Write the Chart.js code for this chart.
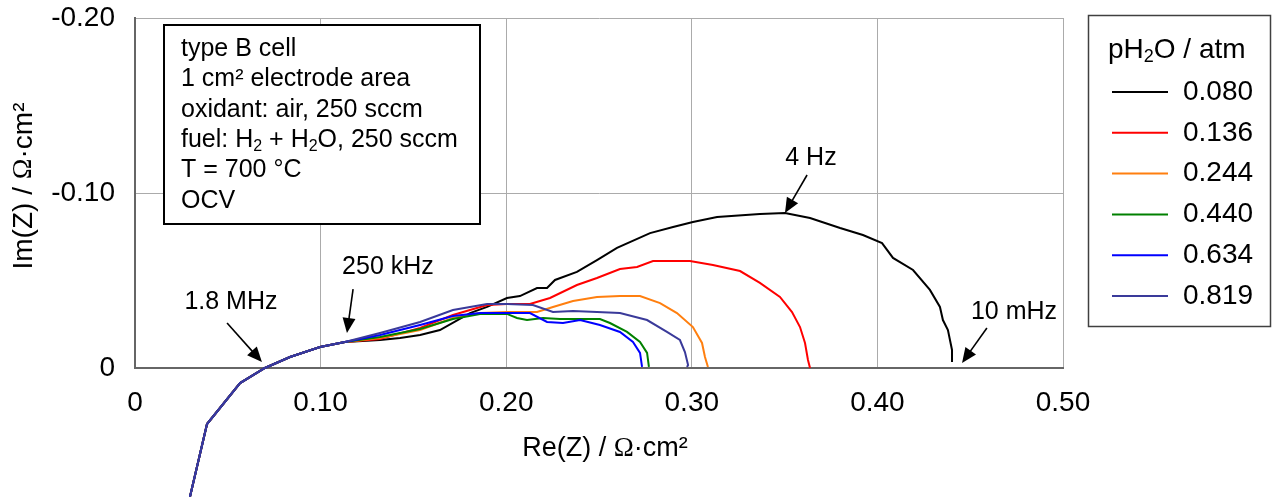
<!DOCTYPE html>
<html>
<head>
<meta charset="utf-8">
<script src="https://cdn.jsdelivr.net/npm/chart.js@4.4.0/dist/chart.umd.min.js"></script>
<style>
  html, body { margin: 0; padding: 0; background: #fff; }
  #wrap { width: 1272px; height: 497px; }
</style>
</head>
<body>
<div id="wrap"><canvas id="nyquist" width="1272" height="497"></canvas></div>
<script>
const FONT = "Arial, 'Liberation Sans', sans-serif";
const SERIF = "'Liberation Serif', 'DejaVu Serif', serif";

// pH2O levels and line colours
const labels = ["0.080", "0.136", "0.244", "0.440", "0.634", "0.819"];
const colors = ["#000000", "#ff0000", "#ff7f0f", "#008000", "#0000ff", "#3a3a9a"];

const xTicks = [0, 0.1, 0.2, 0.3, 0.4, 0.5];
const yTicks = [-0.2, -0.1, 0];

// high frequency part, same for every spectrum
const headRe = [0.028, 0.0296, 0.0388, 0.0566, 0.070, 0.0835, 0.0997, 0.1131];
const headIm = [0.081, 0.0737, 0.032, 0.0086, 0, -0.0063, -0.012, -0.0149];

const re080 = headRe.concat([0.132, 0.1428, 0.1536, 0.1643, 0.1805, 0.1897, 0.2004, 0.2074, 0.2166, 0.222, 0.2263, 0.2381, 0.2489, 0.2597, 0.2775, 0.2899, 0.3006, 0.3136, 0.3367, 0.3502, 0.3637, 0.3799, 0.3922, 0.4025, 0.4084, 0.4192, 0.4283, 0.4337, 0.4353, 0.438, 0.4402, 0.4402]);
const im080 = headIm.concat([-0.016, -0.0171, -0.0189, -0.0217, -0.0314, -0.0349, -0.04, -0.0411, -0.0457, -0.0457, -0.0503, -0.0549, -0.0617, -0.0686, -0.0771, -0.0806, -0.0834, -0.0863, -0.088, -0.0886, -0.0857, -0.08, -0.076, -0.0714, -0.0629, -0.056, -0.0446, -0.0349, -0.0274, -0.0217, -0.0103, -0.0034]);

const re136 = headRe.concat([0.132, 0.1536, 0.1713, 0.1897, 0.2004, 0.2128, 0.2236, 0.2381, 0.2489, 0.2613, 0.2705, 0.2791, 0.299, 0.3114, 0.326, 0.3367, 0.3475, 0.354, 0.3583, 0.361, 0.3626, 0.3637]);
const im136 = headIm.concat([-0.0166, -0.0229, -0.0303, -0.036, -0.0366, -0.0366, -0.04, -0.0474, -0.0514, -0.0566, -0.0577, -0.0611, -0.0611, -0.0589, -0.0554, -0.0486, -0.0406, -0.032, -0.0234, -0.0143, -0.0046, 0]);

const re244 = headRe.concat([0.132, 0.1536, 0.1713, 0.1859, 0.2004, 0.2166, 0.2252, 0.236, 0.2489, 0.2613, 0.2721, 0.2829, 0.292, 0.3006, 0.3055, 0.3071, 0.3087]);
const im244 = headIm.concat([-0.0171, -0.0217, -0.0286, -0.0314, -0.032, -0.032, -0.0349, -0.0383, -0.0406, -0.0411, -0.0411, -0.0371, -0.0314, -0.0234, -0.0143, -0.0063, -0.0006]);

const re440 = headRe.concat([0.132, 0.1536, 0.1713, 0.1859, 0.2004, 0.2058, 0.2112, 0.2198, 0.229, 0.2505, 0.2559, 0.2651, 0.2721, 0.2759, 0.2769]);
const im440 = headIm.concat([-0.0177, -0.0223, -0.028, -0.0309, -0.0309, -0.0286, -0.0274, -0.0286, -0.028, -0.028, -0.0257, -0.0206, -0.0149, -0.0086, -0.0006]);

const re634 = headRe.concat([0.132, 0.1536, 0.1713, 0.1859, 0.2004, 0.2128, 0.222, 0.2306, 0.2398, 0.2505, 0.2613, 0.2683, 0.2721, 0.2732]);
const im634 = headIm.concat([-0.0189, -0.0246, -0.0297, -0.0314, -0.0314, -0.0314, -0.0263, -0.0257, -0.0274, -0.0246, -0.0206, -0.0149, -0.0086, -0.0006]);

const re819 = headRe.concat([0.132, 0.1536, 0.1713, 0.1897, 0.2004, 0.2144, 0.2252, 0.236, 0.2489, 0.2613, 0.2759, 0.2866, 0.2936, 0.2963, 0.298, 0.2974]);
const im819 = headIm.concat([-0.02, -0.0263, -0.0331, -0.0366, -0.0366, -0.036, -0.032, -0.0326, -0.032, -0.0314, -0.0274, -0.0206, -0.016, -0.0091, -0.0017, -0.0006]);

const allRe = [re080, re136, re244, re440, re634, re819];
const allIm = [im080, im136, im244, im440, im634, im819];

// frequency annotations (data coordinates)
const annoText = ["1.8 MHz", "250 kHz", "4 Hz", "10 mHz"];
const annoRe = [0.0517, 0.1363, 0.3642, 0.4736];
const annoIm = [-0.0377, -0.0577, -0.12, -0.032];
const tailRe = [0.0496, 0.1175, 0.3621, 0.459];
const tailIm = [-0.0257, -0.0451, -0.1103, -0.0229];
const tipRe = [0.0684, 0.1142, 0.3502, 0.4456];
const tipIm = [-0.0034, -0.02, -0.0886, -0.0029];

const infoLines = ["type B cell", "1 cm² electrode area", "oxidant: air, 250 sccm",
  "fuel: H_2 + H_2O, 250 sccm", "T = 700 °C", "OCV"];

// text with "_2" subscripts and a serif Omega
function tokens(str) {
  return str.split(/(_\d|Ω)/).filter(s => s.length);
}
function tokFont(t, size) {
  if (t[0] === "_") return Math.round(size * 0.65) + "px " + FONT;
  if (t === "Ω") return size + "px " + SERIF;
  return size + "px " + FONT;
}
function richWidth(ctx, str, size) {
  let w = 0;
  tokens(str).forEach(t => {
    ctx.font = tokFont(t, size);
    w += ctx.measureText(t[0] === "_" ? t.slice(1) : t).width;
  });
  return w;
}
function drawRich(ctx, str, x, y, size, align) {
  let cx = align === "center" ? x - richWidth(ctx, str, size) / 2 : x;
  ctx.textAlign = "left";
  ctx.textBaseline = "middle";
  tokens(str).forEach(t => {
    ctx.font = tokFont(t, size);
    const s = t[0] === "_" ? t.slice(1) : t;
    const dy = t[0] === "_" ? size * 0.25 : 0;
    ctx.fillText(s, cx, y + dy);
    cx += ctx.measureText(s).width;
  });
}

function arrow(ctx, x1, y1, x2, y2) {
  const a = Math.atan2(y2 - y1, x2 - x1);
  const L = 15, W = 6.5;
  ctx.beginPath();
  ctx.moveTo(x1, y1);
  ctx.lineTo(x2 - Math.cos(a) * L * 0.8, y2 - Math.sin(a) * L * 0.8);
  ctx.stroke();
  ctx.beginPath();
  ctx.moveTo(x2, y2);
  ctx.lineTo(x2 - Math.cos(a) * L + Math.sin(a) * W, y2 - Math.sin(a) * L - Math.cos(a) * W);
  ctx.lineTo(x2 - Math.cos(a) * L - Math.sin(a) * W, y2 - Math.sin(a) * L + Math.cos(a) * W);
  ctx.closePath();
  ctx.fill();
}

const extras = {
  id: "extras",
  afterDraw(chart) {
    const ctx = chart.ctx;
    const xs = chart.scales.x, ys = chart.scales.y;
    ctx.save();
    ctx.fillStyle = "#000";
    ctx.strokeStyle = "#000";

    // axis titles
    drawRich(ctx, "Re(Z) / Ω·cm²", 605, 449, 27, "center");
    ctx.save();
    ctx.translate(24, 186);
    ctx.rotate(-Math.PI / 2);
    drawRich(ctx, "Im(Z) / Ω·cm²", 0, 0, 28, "center");
    ctx.restore();

    // frequency labels with arrows
    ctx.lineWidth = 1.6;
    annoText.forEach((t, i) => {
      ctx.font = "25px " + FONT;
      ctx.textAlign = "center";
      ctx.textBaseline = "middle";
      ctx.fillText(t, xs.getPixelForValue(annoRe[i]), ys.getPixelForValue(annoIm[i]));
      arrow(ctx, xs.getPixelForValue(tailRe[i]), ys.getPixelForValue(tailIm[i]),
        xs.getPixelForValue(tipRe[i]), ys.getPixelForValue(tipIm[i]));
    });

    // conditions box
    ctx.fillStyle = "#fff";
    ctx.fillRect(164, 25, 316, 199);
    ctx.lineWidth = 2;
    ctx.strokeRect(164, 25, 316, 199);
    ctx.fillStyle = "#000";
    infoLines.forEach((l, i) => drawRich(ctx, l, 181, 49 + i * 30.4, 25, "left"));

    // legend box
    ctx.lineWidth = 1.5;
    ctx.strokeStyle = "#404040";
    ctx.strokeRect(1088.5, 15.5, 182, 311);
    drawRich(ctx, "pH_2O / atm", 1108, 50, 28, "left");
    chart.data.datasets.forEach((ds, i) => {
      const y = 92 + i * 40.8;
      ctx.strokeStyle = ds.borderColor;
      ctx.lineWidth = 2;
      ctx.beginPath();
      ctx.moveTo(1112, y);
      ctx.lineTo(1168, y);
      ctx.stroke();
      ctx.fillStyle = "#000";
      ctx.font = "28px " + FONT;
      ctx.textAlign = "left";
      ctx.textBaseline = "middle";
      ctx.fillText(ds.label, 1183, y);
    });
    ctx.restore();
  }
};

function fmt(v) {
  return Math.abs(v) < 1e-9 ? "0" : v.toFixed(2);
}

new Chart(document.getElementById("nyquist").getContext("2d"), {
  type: "scatter",
  data: {
    datasets: labels.map((lab, i) => ({
      label: lab,
      data: allRe[i].map((x, j) => ({ x: x, y: allIm[i][j] })),
      showLine: true,
      borderColor: colors[i],
      backgroundColor: colors[i],
      borderWidth: 2,
      pointRadius: 0,
      tension: 0,
      clip: false,
      order: labels.length - 1 - i
    }))
  },
  options: {
    responsive: false,
    animation: false,
    layout: { padding: { left: 0, top: 18, right: 209, bottom: 0 } },
    plugins: { legend: { display: false }, tooltip: { enabled: false } },
    scales: {
      x: {
        type: "linear",
        min: 0, max: 0.5,
        afterBuildTicks: s => { s.ticks = xTicks.map(v => ({ value: v })); },
        afterFit: s => { s.height = 129; s.paddingLeft = 0; s.paddingRight = 0; },
        grid: { color: "#ababab", lineWidth: 1, drawTicks: false },
        border: { display: true, color: "#666666", width: 2 },
        ticks: { padding: 18, color: "#000", font: { family: FONT, size: 28 }, callback: v => fmt(v) }
      },
      y: {
        type: "linear",
        reverse: true,
        min: -0.2, max: 0,
        afterBuildTicks: s => { s.ticks = yTicks.map(v => ({ value: v })); },
        afterFit: s => { s.width = 135; s.paddingTop = 0; s.paddingBottom = 0; },
        grid: { color: "#ababab", lineWidth: 1, drawTicks: false },
        border: { display: true, color: "#666666", width: 2 },
        ticks: { padding: 20, color: "#000", font: { family: FONT, size: 28 }, callback: v => fmt(v) }
      }
    }
  },
  plugins: [extras]
});
</script>
</body>
</html>
